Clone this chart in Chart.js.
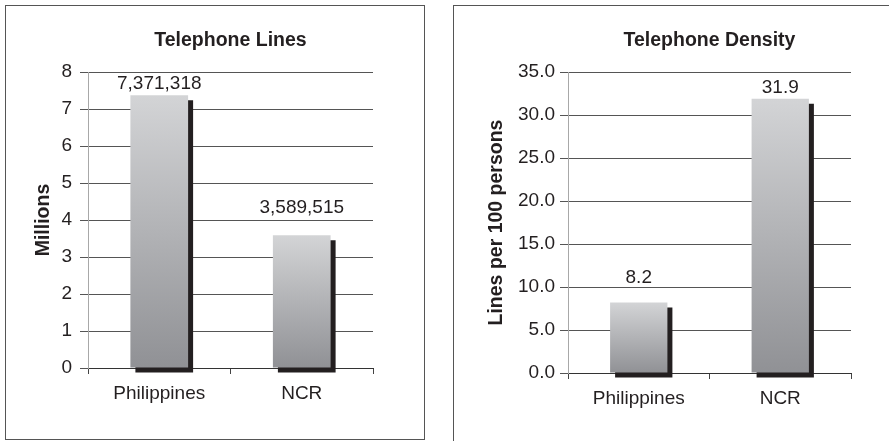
<!DOCTYPE html>
<html>
<head>
<meta charset="utf-8">
<script src="https://cdn.jsdelivr.net/npm/chart.js@4"></script>
<style>
  body { margin: 0; background: #fff; width: 889px; height: 441px; overflow: hidden; position: relative; font-family: "Liberation Sans", Arial, sans-serif; }
  .panel { position: absolute; border: 1px solid #555; box-sizing: border-box; }
  #leftPanel { left: 5px; top: 5px; width: 420px; height: 435px; }
  #rightPanel { left: 453px; top: 5px; width: 460px; height: 460px; }
  .box { position: absolute; }
  #leftBox { left: 6px; top: 6px; width: 418px; height: 432px; }
  #rightBox { left: 454px; top: 6px; width: 435px; height: 435px; }
</style>
</head>
<body>
<div class="panel" id="leftPanel"></div>
<div class="panel" id="rightPanel"></div>
<div class="box" id="leftBox"><canvas id="linesChart"></canvas></div>
<div class="box" id="rightBox"><canvas id="densityChart"></canvas></div>
<script>
const categories = ["Philippines", "NCR"];
const telephoneLines = [7371318, 3589515];   // raw counts, plotted in millions
const telephoneDensity = [8.2, 31.9];        // lines per 100 persons
const linesTicks = ["0", "1", "2", "3", "4", "5", "6", "7", "8"];
const densityTicks = ["0.0", "5.0", "10.0", "15.0", "20.0", "25.0", "30.0", "35.0"];

const INK = '#231f20';
const FONT = '"Liberation Sans", Arial, sans-serif';

// draw the title centered over the plot area (Excel style)
const panelTitle = {
    id: 'panelTitle',
    afterDraw(chart, args, opts) {
        const ctx = chart.ctx;
        const area = chart.chartArea;
        ctx.save();
        ctx.font = 'bold 19.5px ' + FONT;
        ctx.fillStyle = INK;
        ctx.textAlign = 'center';
        ctx.textBaseline = 'alphabetic';
        ctx.fillText(opts.text, (area.left + area.right) / 2, opts.baseline);
        ctx.restore();
    }
};

// hard drop shadow behind each bar
const barShadow = {
    id: 'barShadow',
    beforeDatasetsDraw(chart) {
        const ctx = chart.ctx;
        ctx.save();
        ctx.shadowColor = INK;
        ctx.shadowOffsetX = 5;
        ctx.shadowOffsetY = 5;
        ctx.shadowBlur = 0;
    },
    afterDatasetsDraw(chart) {
        chart.ctx.restore();
    }
};

// value labels above bars
const valueLabels = {
    id: 'valueLabels',
    afterDraw(chart, args, opts) {
        const ctx = chart.ctx;
        const meta = chart.getDatasetMeta(0);
        ctx.save();
        ctx.font = '19px ' + FONT;
        ctx.fillStyle = INK;
        ctx.textAlign = 'center';
        ctx.textBaseline = 'alphabetic';
        meta.data.forEach((bar, i) => {
            ctx.fillText(opts.labels[i], bar.x, bar.y - opts.gaps[i]);
        });
        ctx.restore();
    }
};

function barGradient(context) {
    const chart = context.chart;
    const yScale = chart.scales.y;
    if (!chart.chartArea || !yScale) return '#b5b6b9';
    const top = yScale.getPixelForValue(context.parsed.y);
    const bottom = yScale.getPixelForValue(0);
    const g = chart.ctx.createLinearGradient(0, top, 0, bottom);
    g.addColorStop(0, '#d3d4d6');
    g.addColorStop(1, '#909195');
    return g;
}

function makeChart(canvasId, cfg) {
    const ctx = document.getElementById(canvasId).getContext('2d');
    return new Chart(ctx, {
        type: 'bar',
        data: {
            labels: categories,
            datasets: [{
                data: cfg.values,
                backgroundColor: barGradient,
                borderWidth: 0,
                barPercentage: 0.405,
                categoryPercentage: 1,
                clip: false
            }]
        },
        plugins: [panelTitle, barShadow, valueLabels],
        options: {
            responsive: true,
            maintainAspectRatio: false,
            animation: false,
            layout: { padding: { top: cfg.areaTop, right: cfg.padRight, bottom: 0, left: 0 } },
            plugins: {
                legend: { display: false },
                tooltip: { enabled: false },
                title: { display: false },
                panelTitle: { text: cfg.title, baseline: 40 },
                valueLabels: { labels: cfg.labels, gaps: cfg.gaps }
            },
            scales: {
                x: {
                    afterFit(scale) { scale.height = cfg.xHeight; },
                    grid: {
                        offset: true,
                        drawOnChartArea: false,
                        drawTicks: true,
                        tickLength: 6,
                        tickColor: '#444',
                        tickWidth: 1
                    },
                    border: { display: true, color: '#333', width: 1 },
                    ticks: {
                        color: INK,
                        padding: 8,
                        font: { family: FONT, size: 19 },
                        maxRotation: 0
                    }
                },
                y: {
                    min: 0,
                    max: cfg.max,
                    afterFit(scale) { scale.width = cfg.yWidth; },
                    grid: {
                        color: '#555',
                        lineWidth: 1,
                        drawTicks: true,
                        tickLength: 8,
                        tickColor: '#555'
                    },
                    border: { display: true, color: '#a8a8a8', width: 1 },
                    ticks: {
                        stepSize: cfg.step,
                        color: INK,
                        padding: cfg.tickPad,
                        font: { family: FONT, size: 19 },
                        callback: (v, i) => cfg.tickLabels[i]
                    },
                    title: {
                        display: true,
                        text: cfg.yTitle,
                        color: INK,
                        padding: { top: cfg.yTitlePad, bottom: 0 },
                        font: { family: FONT, size: 19.5, weight: 'bold' }
                    }
                }
            }
        }
    });
}

makeChart('linesChart', {
    title: 'Telephone Lines',
    values: telephoneLines.map(v => v / 1e6),
    labels: telephoneLines.map(v => v.toLocaleString('en-US')),
    gaps: [6, 22],
    tickLabels: linesTicks,
    max: 8,
    step: 1,
    yTitle: 'Millions',
    yTitlePad: 26,
    yWidth: 82,
    tickPad: 8,
    areaTop: 66,
    padRight: 51,
    xHeight: 70
});

makeChart('densityChart', {
    title: 'Telephone Density',
    values: telephoneDensity,
    labels: telephoneDensity.map(v => v.toFixed(1)),
    gaps: [19, 6],
    tickLabels: densityTicks,
    max: 35,
    step: 5,
    yTitle: 'Lines per 100 persons',
    yTitlePad: 31,
    yWidth: 114,
    tickPad: 5,
    areaTop: 66,
    padRight: 38,
    xHeight: 68
});
</script>
</body>
</html>
